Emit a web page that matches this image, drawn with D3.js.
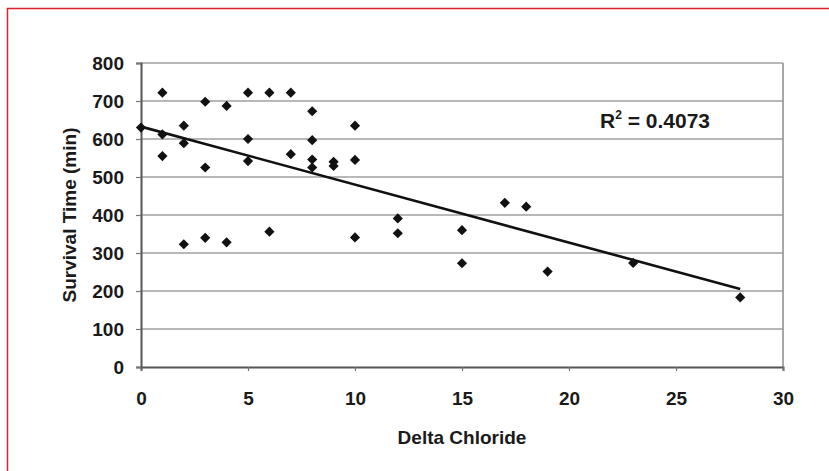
<!DOCTYPE html>
<html>
<head>
<meta charset="utf-8">
<script src="https://cdn.jsdelivr.net/npm/d3@7"></script>
<style>
  body { margin: 0; background: #fff; }
  svg text { font-family: "Liberation Sans", Arial, sans-serif; fill: #1a1a1a; }
</style>
</head>
<body>
<svg id="chart" width="829" height="471"></svg>
<script>
// delta chloride (x) and survival time in minutes (y)
var deltaChloride = [0, 1, 1, 1, 2, 2, 2, 3, 3, 3, 4, 4, 5, 5, 5, 6, 6, 7, 7,
    8, 8, 8, 8, 9, 9, 10, 10, 10, 12, 12, 15, 15, 17, 18, 19, 23, 28];
var survivalTime = [630, 722, 612, 555, 635, 589, 323, 698, 525, 340, 687, 328,
    722, 600, 542, 722, 356, 722, 560, 673, 597, 546, 525, 540, 529, 635, 545,
    341, 391, 352, 360, 273, 432, 422, 251, 274, 183];

var xTicks = [0, 5, 10, 15, 20, 25, 30];
var yTicks = [0, 100, 200, 300, 400, 500, 600, 700, 800];
var rSquaredLabel = "0.4073";

var margin = { top: 63, right: 46, bottom: 104, left: 141 };
var width = 829 - margin.left - margin.right;
var height = 471 - margin.top - margin.bottom;

var svg = d3.select("#chart");

// red frame of the figure box
svg.append("rect")
    .attr("x", 7.5).attr("y", 8.5)
    .attr("width", 840).attr("height", 480)
    .attr("fill", "none")
    .attr("stroke", "#e0202c")
    .attr("stroke-width", 1.5);

var g = svg.append("g")
    .attr("transform", "translate(" + margin.left + "," + margin.top + ")");

var x = d3.scaleLinear().domain([0, 30]).range([0, width]);
var y = d3.scaleLinear().domain([0, 800]).range([height, 0]);

// horizontal gridlines
g.append("g")
    .selectAll("line")
    .data(yTicks.filter(function(d){ return d > 0; }))
    .join("line")
    .attr("x1", 0).attr("x2", width)
    .attr("y1", function(d){ return y(d); })
    .attr("y2", function(d){ return y(d); })
    .attr("stroke", "#a0a0a0")
    .attr("stroke-width", 1.6);

// right border of plot area
g.append("line")
    .attr("x1", width).attr("x2", width)
    .attr("y1", 0).attr("y2", height)
    .attr("stroke", "#8a8a8a")
    .attr("stroke-width", 1.5);

var xAxis = d3.axisBottom(x).tickValues(xTicks).tickSize(4).tickPadding(21);
var yAxis = d3.axisLeft(y).tickValues(yTicks).tickSize(5).tickPadding(12);

var gx = g.append("g")
    .attr("transform", "translate(0," + height + ")")
    .call(xAxis);
var gy = g.append("g").call(yAxis);

[gx, gy].forEach(function(a){
    a.select(".domain").attr("stroke", "#555").attr("stroke-width", 2);
    a.selectAll(".tick line").attr("stroke", "#777").attr("stroke-width", 1.2);
    a.selectAll(".tick text")
        .attr("font-size", 19)
        .attr("font-weight", "bold")
        .attr("fill", "#1a1a1a");
});

// linear trend line from least squares
var n = deltaChloride.length;
var mx = d3.mean(deltaChloride), my = d3.mean(survivalTime);
var sxy = 0, sxx = 0;
for (var i = 0; i < n; i++) {
    sxy += (deltaChloride[i] - mx) * (survivalTime[i] - my);
    sxx += (deltaChloride[i] - mx) * (deltaChloride[i] - mx);
}
var slope = sxy / sxx;
var intercept = my - slope * mx;
var xMax = d3.max(deltaChloride);

g.append("line")
    .attr("x1", x(0)).attr("y1", y(intercept))
    .attr("x2", x(xMax)).attr("y2", y(intercept + slope * xMax))
    .attr("stroke", "#111")
    .attr("stroke-width", 2.6);

// diamond markers (square turned 45 degrees)
var marker = d3.symbol().type(d3.symbolSquare).size(52);
g.append("g")
    .selectAll("path")
    .data(d3.range(n))
    .join("path")
    .attr("d", marker)
    .attr("transform", function(i){
        return "translate(" + x(deltaChloride[i]) + "," + y(survivalTime[i]) + ") rotate(45)";
    })
    .attr("fill", "#111");

// R squared label
var rt = svg.append("text")
    .attr("x", 600)
    .attr("y", 128)
    .attr("font-size", 21)
    .attr("font-weight", "bold");
rt.append("tspan").text("R");
rt.append("tspan").attr("font-size", 12).attr("dy", -9).text("2");
rt.append("tspan").attr("dy", 9).text(" = " + rSquaredLabel);

// axis titles
svg.append("text")
    .attr("x", margin.left + width / 2)
    .attr("y", 444)
    .attr("text-anchor", "middle")
    .attr("font-size", 19)
    .attr("font-weight", "bold")
    .text("Delta Chloride");

svg.append("text")
    .attr("transform", "translate(76," + (margin.top + height / 2) + ") rotate(-90)")
    .attr("text-anchor", "middle")
    .attr("font-size", 19)
    .attr("font-weight", "bold")
    .text("Survival Time (min)");
</script>
</body>
</html>
